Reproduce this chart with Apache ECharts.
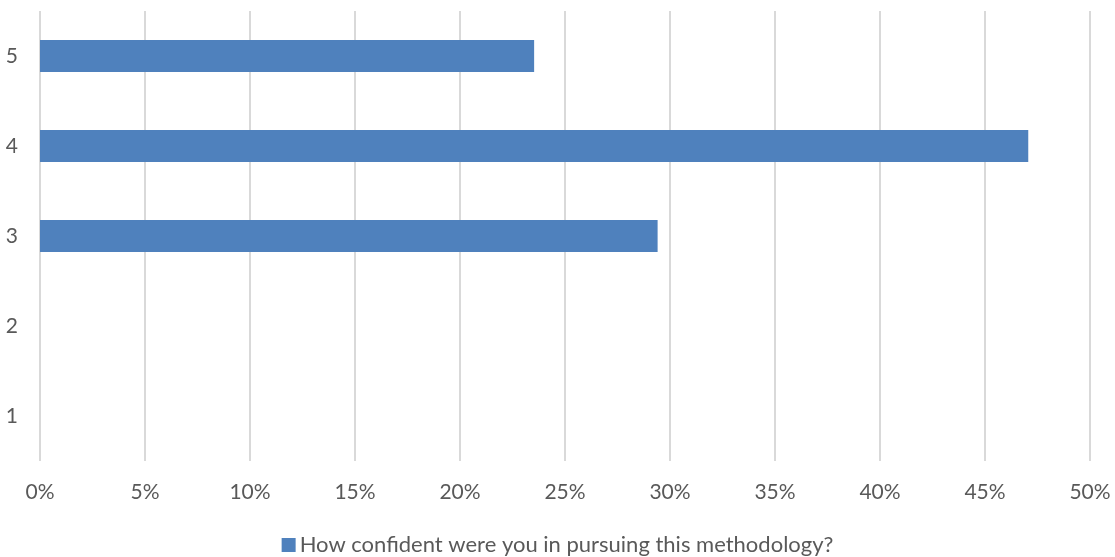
<!DOCTYPE html>
<html>
<head>
<meta charset="utf-8">
<script src="https://cdn.jsdelivr.net/npm/echarts@6/dist/echarts.min.js"></script>
<style>
  html, body { margin: 0; padding: 0; background: #fff; }
  #chart { width: 1115px; height: 557px; }
</style>
</head>
<body>
<div id="chart"></div>
<script>
// Confidence ratings (1–5) and the share of respondents choosing each
const categories = ['1', '2', '3', '4', '5'];
const shares = [0, 0, 29.41, 47.06, 23.53];
const seriesName = 'How confident were you in pursuing this methodology?';
const xTicks = { min: 0, max: 50, interval: 5 };

const textColor = '#595959';
const fontFamily = 'Lato, "Open Sans", sans-serif';
const fontSize = 21;

const chart = echarts.init(document.getElementById('chart'));
chart.setOption({
  animation: false,
  textStyle: { fontFamily: fontFamily },
  grid: { left: 40, right: 25, top: 11, bottom: 96, containLabel: false },
  legend: {
    top: 534,
    left: 'center',
    padding: 0,
    data: [seriesName],
    icon: 'rect',
    itemWidth: 14,
    itemHeight: 14,
    itemGap: 6,
    textStyle: { color: textColor, fontSize: 22, fontFamily: fontFamily, padding: [0, 0, 0, -1] }
  },
  xAxis: {
    type: 'value',
    min: xTicks.min,
    max: xTicks.max,
    interval: xTicks.interval,
    axisLine: { show: false },
    axisTick: { show: false },
    axisLabel: {
      formatter: '{value}%',
      color: textColor,
      fontSize: fontSize,
      margin: 21
    },
    splitLine: { show: true, lineStyle: { color: '#D9D9D9', width: 2 } }
  },
  yAxis: {
    type: 'category',
    data: categories,
    axisLine: { show: false },
    axisTick: { show: false },
    axisLabel: { color: textColor, fontSize: fontSize, margin: 22 },
    splitLine: { show: false }
  },
  series: [{
    name: seriesName,
    type: 'bar',
    data: shares,
    barWidth: 32,
    itemStyle: { color: '#4F81BD' }
  }]
});
</script>
</body>
</html>
